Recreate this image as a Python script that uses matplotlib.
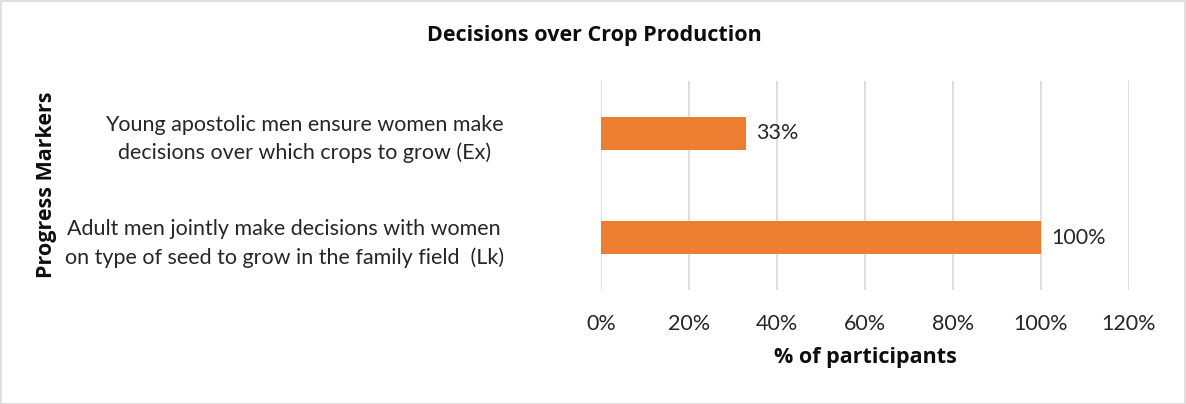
import matplotlib
matplotlib.use("Agg")
import matplotlib.pyplot as plt
from matplotlib.patches import Rectangle
from matplotlib.ticker import FuncFormatter

categories = [
    "Adult men jointly make decisions with women\non type of seed to grow in the family field  (Lk)",
    "Young apostolic men ensure women make\ndecisions over which crops to grow (Ex)",
]
values = [100, 33]
tick_values = [0, 20, 40, 60, 80, 100, 120]

plt.rcParams['font.family'] = ['Lato', 'DejaVu Sans']
BOLD = ['Open Sans', 'DejaVu Sans']

W, H = 1186, 404
fig = plt.figure(figsize=(W / 100, H / 100), dpi=100)
fig.patches.append(Rectangle((0.5 / W, 0.5 / H), 1 - 1.5 / W, 1 - 1.5 / H, transform=fig.transFigure,
                             fill=False, edgecolor="#D9D9D9", linewidth=1.2))

left, right = 601 / W, 1129 / W
top, bottom = 81 / H, 290 / H
ax = fig.add_axes([left, 1 - bottom, right - left, bottom - top])

bars = ax.barh(range(len(categories)), values, height=0.313, color="#ED7D31", zorder=3)
for b, v in zip(bars, values):
    ax.text(v + 2.3, b.get_y() + b.get_height() / 2, f"{v}%", va="center", ha="left",
            fontsize=15.5, color="#262626")

ax.set_xlim(0, 120)
ax.set_ylim(-0.5, 1.5)
ax.set_xticks(tick_values)
ax.xaxis.set_major_formatter(FuncFormatter(lambda x, p: f"{x:.0f}%"))
ax.set_yticks(range(len(categories)))
ax.set_yticklabels(categories, fontsize=15.5, color="#262626", ha="right", multialignment="center",
                   linespacing=1.45)
ax.tick_params(axis='y', length=0, pad=70)
ax.tick_params(axis='x', length=0, labelsize=15.5, labelcolor="#262626", pad=17)
ax.grid(axis='x', color="#D9D9D9", linewidth=1.2, zorder=0)
for s in ax.spines.values():
    s.set_visible(False)

fig.text(865 / W, 1 - 358 / H, "% of participants", fontsize=15.5, fontweight="bold", family=BOLD,
         color="#0D0D0D", ha="center", va="center")
fig.text(47 / W, 1 - 185 / H, "Progress Markers", rotation=90, fontsize=15.5, fontweight="bold",
         family=BOLD, color="#0D0D0D", ha="center", va="center")
fig.text(594 / W, 1 - 35 / H, "Decisions over Crop Production", fontsize=15.5, fontweight="bold",
         family=BOLD, color="#0D0D0D", ha="center", va="center")

fig.savefig("out.png", dpi=100)
